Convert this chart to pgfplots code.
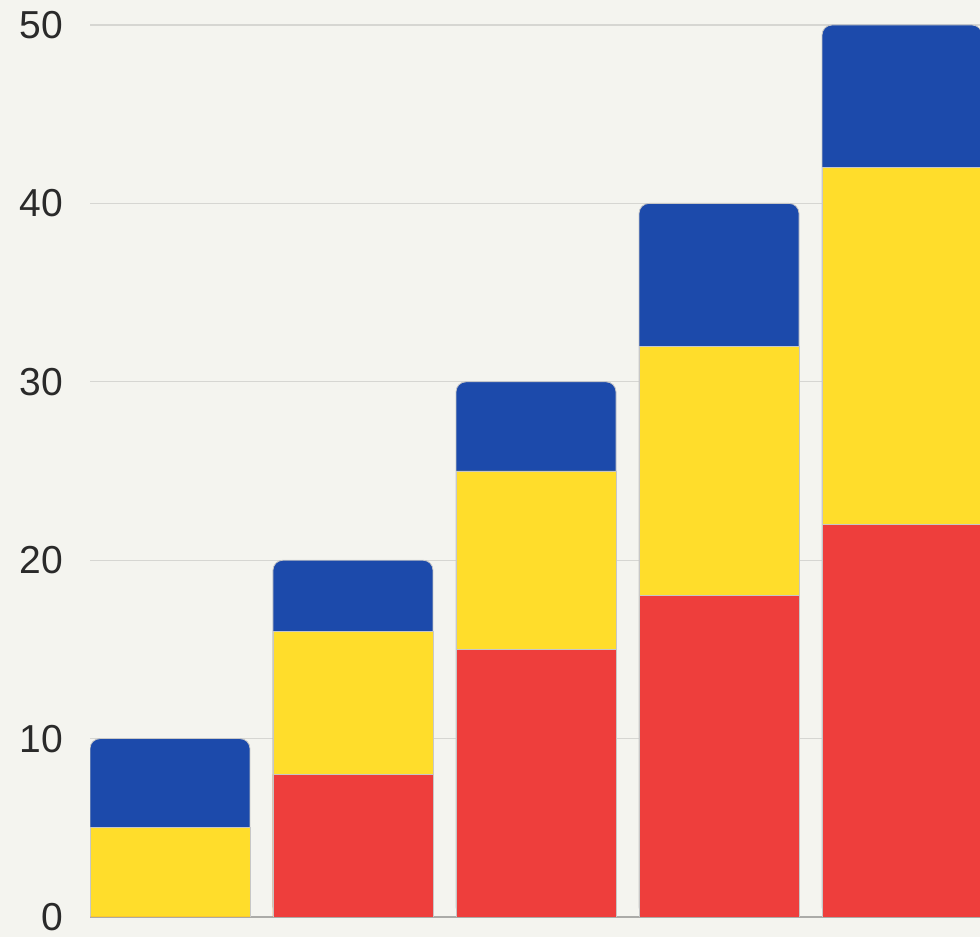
\documentclass[border=0pt]{standalone}
\usepackage{pgfplots}
\pgfplotsset{compat=1.18}
\usepackage{fontspec}
\setmainfont{Liberation Sans}
\definecolor{bg}{HTML}{F4F4EF}
\definecolor{gridc}{HTML}{D6D6D2}
\definecolor{barblue}{HTML}{1C4AAB}
\definecolor{baryellow}{HTML}{FFDD2B}
\definecolor{barred}{HTML}{EE3E3C}
\definecolor{txt}{HTML}{2A2A2A}
\begin{document}
\begin{tikzpicture}
% 1px = 0.5pt
\useasboundingbox (-45pt,-10pt) rectangle (445pt,458.5pt);
\fill[bg] (-45pt,-10pt) rectangle (445pt,458.5pt);
\begin{axis}[
  scale only axis,
  width=445pt, height=446pt,
  xmin=-0.437, xmax=4.426,
  ymin=0, ymax=50,
  ytick={0,10,20,30,40,50},
  xtick=\empty,
  axis y line*=left,
  axis x line*=bottom,
  y axis line style={draw=none},
  x axis line style={draw=gridc!80!black, line width=0.6pt, -},
  ymajorgrids=true,
  grid style={draw=gridc, line width=0.6pt},
  major tick length=0pt,
  /pgf/number format/assume math mode=true,
  yticklabel style={font=\fontsize{19.5}{22}\selectfont, text=txt, anchor=east, xshift=-10pt},
  ybar, bar width=80pt, bar shift=0pt,
  every axis plot/.append style={draw=black!22, line width=0.4pt},
  clip=true,
]
% totals (blue segment on top)
\addplot[fill=barblue, rounded corners=5pt] coordinates {(0,10) (1,20) (2,30) (3,40) (4,50)};
% red + yellow
\addplot[fill=baryellow] coordinates {(0,5) (1,16) (2,25) (3,32) (4,42)};
% red
\addplot[fill=barred] coordinates {(0,0) (1,8) (2,15) (3,18) (4,22)};
\end{axis}
\end{tikzpicture}
\end{document}
